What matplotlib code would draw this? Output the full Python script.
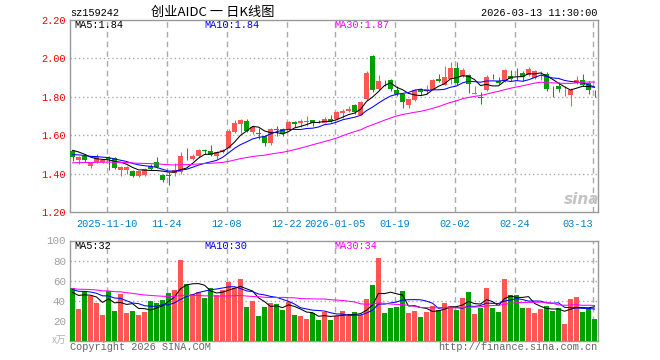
import numpy as np
import pandas as pd
import matplotlib
matplotlib.use('Agg')
import matplotlib.pyplot as plt

# daily bars
opens = [1.520, 1.470, 1.490, 1.442, 1.459, 1.459, 1.480, 1.482, 1.421, 1.417,
         1.416, 1.386, 1.395, 1.438, 1.461, 1.395, 1.392, 1.405, 1.407, 1.480,
         1.477, 1.490, 1.525, 1.520, 1.494, 1.510, 1.534, 1.616, 1.656, 1.675,
         1.618, 1.612, 1.595, 1.557, 1.632, 1.632, 1.630, 1.668, 1.664, 1.671,
         1.677, 1.670, 1.664, 1.682, 1.682, 1.717, 1.725, 1.755, 1.703, 1.786,
         2.012, 1.842, 1.878, 1.887, 1.838, 1.812, 1.755, 1.783, 1.842, 1.830,
         1.838, 1.894, 1.864, 1.894, 1.951, 1.908, 1.911, 1.815, 1.797, 1.835,
         1.901, 1.882, 1.882, 1.908, 1.921, 1.922, 1.911, 1.899, 1.919, 1.920,
         1.817, 1.856, 1.836, 1.809, 1.873, 1.890, 1.873, 1.822]
highs = [1.525, 1.490, 1.500, 1.458, 1.500, 1.473, 1.490, 1.485, 1.438, 1.437,
         1.420, 1.415, 1.430, 1.450, 1.485, 1.400, 1.410, 1.455, 1.515, 1.535,
         1.500, 1.530, 1.528, 1.550, 1.517, 1.530, 1.633, 1.678, 1.685, 1.685,
         1.655, 1.638, 1.603, 1.638, 1.647, 1.638, 1.673, 1.673, 1.682, 1.700,
         1.680, 1.680, 1.696, 1.703, 1.725, 1.734, 1.751, 1.760, 1.777, 1.934,
         2.017, 1.911, 1.890, 1.894, 1.856, 1.820, 1.790, 1.842, 1.847, 1.864,
         1.894, 1.920, 1.963, 1.980, 1.980, 1.951, 1.918, 1.856, 1.824, 1.911,
         1.917, 1.904, 1.946, 1.942, 1.951, 1.934, 1.956, 1.942, 1.934, 1.930,
         1.856, 1.877, 1.856, 1.847, 1.908, 1.917, 1.882, 1.833]
lows = [1.465, 1.450, 1.460, 1.430, 1.455, 1.455, 1.421, 1.425, 1.385, 1.400,
        1.383, 1.383, 1.390, 1.420, 1.430, 1.355, 1.340, 1.390, 1.400, 1.470,
        1.470, 1.487, 1.500, 1.490, 1.475, 1.508, 1.534, 1.613, 1.610, 1.616,
        1.605, 1.578, 1.546, 1.551, 1.595, 1.595, 1.626, 1.643, 1.643, 1.647,
        1.647, 1.661, 1.661, 1.668, 1.678, 1.690, 1.720, 1.713, 1.703, 1.783,
        1.824, 1.838, 1.856, 1.830, 1.803, 1.743, 1.743, 1.777, 1.807, 1.812,
        1.835, 1.877, 1.859, 1.866, 1.864, 1.901, 1.821, 1.812, 1.763, 1.830,
        1.894, 1.866, 1.877, 1.882, 1.890, 1.882, 1.908, 1.894, 1.887, 1.830,
        1.800, 1.826, 1.803, 1.751, 1.866, 1.856, 1.812, 1.800]
closes = [1.487, 1.487, 1.470, 1.456, 1.487, 1.470, 1.475, 1.430, 1.435, 1.435,
          1.386, 1.412, 1.424, 1.424, 1.435, 1.369, 1.388, 1.420, 1.490, 1.477,
          1.490, 1.525, 1.517, 1.499, 1.513, 1.525, 1.621, 1.661, 1.678, 1.621,
          1.645, 1.607, 1.560, 1.633, 1.628, 1.604, 1.668, 1.656, 1.673, 1.675,
          1.661, 1.668, 1.682, 1.673, 1.720, 1.725, 1.737, 1.720, 1.772, 1.925,
          1.838, 1.882, 1.877, 1.842, 1.812, 1.772, 1.786, 1.838, 1.824, 1.842,
          1.890, 1.880, 1.904, 1.951, 1.873, 1.939, 1.868, 1.818, 1.795, 1.903,
          1.899, 1.870, 1.939, 1.894, 1.919, 1.904, 1.946, 1.932, 1.921, 1.843,
          1.815, 1.843, 1.838, 1.838, 1.890, 1.864, 1.838, 1.820]
volumes = [53, 32, 50, 45, 38, 26, 50, 30, 47, 28,
           30, 26, 29, 40, 38, 41, 48, 51, 81, 57,
           47, 49, 43, 53, 46, 51, 59, 53, 62, 34,
           40, 25, 34, 38, 37, 31, 39, 26, 25, 22,
           28, 21, 29, 21, 25, 30, 25, 29, 26, 42,
           56, 83, 28, 33, 34, 50, 28, 30, 24, 29,
           35, 31, 38, 35, 31, 43, 49, 27, 33, 53,
           33, 29, 62, 46, 46, 33, 33, 28, 32, 35,
           30, 33, 17, 42, 44, 29, 32, 22]

# moving average levels at the first shown bar (stand-in for the hidden history)
price_ma_start = [1.53, 1.50, 1.455]
vol_ma_start = [47, 51, 52]
ma_windows = [5, 10, 30]
ma_colors = ['black', '#0000ff', '#ff00ff']
price_ma_text = ['MA5:1.84', 'MA10:1.84', 'MA30:1.87']
vol_ma_text = ['MA5:32', 'MA10:30', 'MA30:34']

tick_idx = [6, 16, 26, 36, 44, 54, 64, 74, 87]
tick_labels = ['2025-11-10', '11-24', '12-08', '12-22', '2026-01-05',
               '01-19', '02-02', '02-24', '03-13']
price_ticks = [1.20, 1.40, 1.60, 1.80, 2.00, 2.20]
vol_ticks = [20, 40, 60, 80, 100]

RED = '#ff5555'
GREEN = '#00a000'
GRID = '#aaaaaa'
MONO = 'Liberation Mono'
W, H = 660, 360


def ma(values, n, start):
    s = pd.Series([start] * (n - 1) + list(values), dtype=float)
    return s.rolling(n).mean().to_numpy()[n - 1:]


def fx(px):
    return px / W


def fy(py):
    return 1 - py / H


plt.rcParams['lines.scale_dashes'] = False
fig = plt.figure(figsize=(6.6, 3.6), dpi=100)
fig.patch.set_facecolor('white')

ax = fig.add_axes([fx(70), fy(212), fx(597.5) - fx(70), fy(20) - fy(212)])
axv = fig.add_axes([fx(70), fy(340.7), fx(597.5) - fx(70), fy(240.5) - fy(340.7)])

o = np.array(opens)
c = np.array(closes)
x = np.arange(len(o))
up = c >= o
cols = np.where(up, RED, GREEN)
xl = (-0.42, 87.5)

# candles
ax.vlines(x, lows, highs, colors=cols, linewidth=0.75, zorder=3)
body_h = np.maximum(np.abs(c - o), 0.003)
ax.bar(x, body_h, bottom=np.minimum(o, c) - np.where(np.abs(c - o) < 0.003, 0.0015, 0),
       width=0.82, color=cols, linewidth=0, zorder=4)
for n, st, col in zip(ma_windows, price_ma_start, ma_colors):
    ax.plot(x, ma(closes, n, st), color=col, lw=0.75, zorder=5)

# volume
axv.bar(x, volumes, width=0.82, color=cols, linewidth=0, zorder=3)
for n, st, col in zip(ma_windows, vol_ma_start, ma_colors):
    axv.plot(x, ma(volumes, n, st), color=col, lw=0.75, zorder=5)

grid_x = [t - 0.33 for t in tick_idx]
for a, yt, ylim in [(ax, price_ticks, (1.20, 2.20)), (axv, vol_ticks, (0, 100))]:
    a.set_xlim(*xl)
    a.set_ylim(*ylim)
    for g in grid_x:
        a.axvline(g, color=GRID, lw=1.0, ls=(0, (4, 3)), zorder=1)
    for v in yt[1:-1]:
        a.axhline(v, color=GRID, lw=1.0, ls=(0, (1, 2)), zorder=1)
    for s in a.spines.values():
        s.set_color('#999999')
        s.set_linewidth(1.0)
    a.tick_params(length=0)

ax.set_yticks(price_ticks, [f'{v:.2f}' for v in price_ticks])
ax.tick_params(axis='y', colors='#ff0000', pad=3)
ax.set_xticks(grid_x, tick_labels)
ax.tick_params(axis='x', colors='#0080cc', pad=5)
for lab in ax.get_xticklabels() + ax.get_yticklabels():
    lab.set_fontfamily(MONO)
    lab.set_fontsize(7.4)
ax.get_xticklabels()[-1].set_horizontalalignment('right')

axv.set_xticks([])
axv.set_yticks(vol_ticks, [str(v) for v in vol_ticks])
axv.tick_params(axis='y', colors='#a0a0a0', pad=3)
for lab in axv.get_yticklabels():
    lab.set_fontfamily(MONO)
    lab.set_fontsize(7.8)

# header and labels
fig.text(fx(70), fy(13), 'sz159242', fontfamily=MONO, fontsize=7.4, va='center')
fig.text(fx(213), fy(12), '创业AIDC 一 日K线图', fontfamily=['Noto Sans CJK SC', 'DejaVu Sans'],
         fontsize=9.5, ha='center', va='center')
fig.text(fx(597), fy(13), '2026-03-13 11:30:00', fontfamily=MONO, fontsize=7.4,
         ha='right', va='center')
for px, t, col in zip([74, 204, 334], price_ma_text, ma_colors):
    fig.text(fx(px), fy(25.5), t, color=col, fontfamily=MONO, fontsize=7.4, va='center')
for px, t, col in zip([74, 204, 334], vol_ma_text, ma_colors):
    fig.text(fx(px), fy(246), t, color=col, fontfamily=MONO, fontsize=7.4, va='center')

fig.text(fx(66), fy(340), 'x万', color='#b0b0b0', fontfamily=['Noto Sans CJK SC', 'DejaVu Sans'],
         fontsize=7, ha='right', va='center')
fig.text(fx(70), fy(346.5), 'Copyright 2026 SINA.COM', color='#666666', fontfamily=MONO,
         fontsize=7.4, va='center')
fig.text(fx(597), fy(346.5), 'http://finance.sina.com.cn', color='#666666', fontfamily=MONO,
         fontsize=7.4, ha='right', va='center')

# watermark
fig.text(fx(582), fy(199), 'sina', color='#c4c4c4', fontsize=11, fontweight='bold',
         style='italic', ha='center', va='center', zorder=0)

fig.savefig('out.png', dpi=100)
